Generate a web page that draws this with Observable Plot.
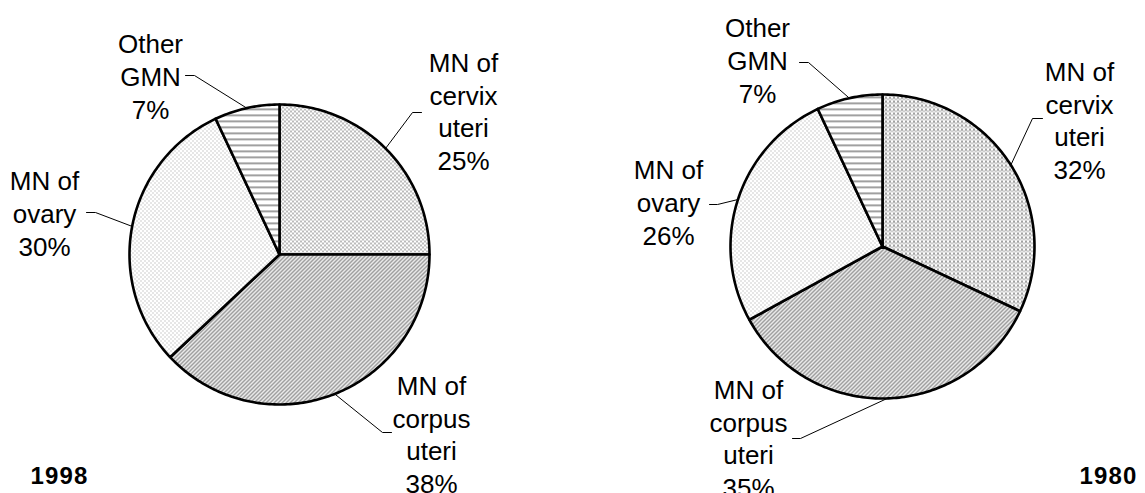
<!DOCTYPE html>
<html>
<head>
<meta charset="utf-8">
<script src="https://cdn.jsdelivr.net/npm/d3@7"></script>
<script src="https://cdn.jsdelivr.net/npm/@observablehq/plot@0.6"></script>
<style>
  html, body { margin: 0; padding: 0; background: #fff; }
  #chart svg { display: block; }
</style>
</head>
<body>
<div id="chart"></div>
<script>
// ---- data ----
const years = ["1998", "1980"];
const categories = ["MN of cervix uteri", "MN of corpus uteri", "MN of ovary", "Other GMN"];
const labelLines = ["MN of\ncervix\nuteri", "MN of\ncorpus\nuteri", "MN of\novary", "Other\nGMN"];
const shares1998 = [25, 38, 30, 7];
const shares1980 = [32, 35, 26, 7];

// ---- layout (positions / styles only) ----
const W = 1145, H = 493;
const pieLayout = [
  { cx: 279, cy: 254, r: 150,
    patterns: ["pDotsDense", "pDiag", "pDotsSparse", "pHoriz"],
    labels: [
      { lx: 463, ly: 110, ex: 412, ax: 421, y: 112 },
      { lx: 431, ly: 433, ex: 382, ax: 391, y: 432 },
      { lx: 44,  ly: 212, ex: 95,  ax: 86,  y: 212 },
      { lx: 150, ly: 75,  ex: 194, ax: 185, y: 75 }
    ],
    year: { x: 59, y: 476 } },
  { cx: 882, cy: 246, r: 152,
    patterns: ["pVertDash", "pDiag", "pDotsSparse", "pHoriz"],
    labels: [
      { lx: 1079, ly: 119, ex: 1032, ax: 1042, y: 118 },
      { lx: 748,  ly: 437, ex: 800,  ax: 792,  y: 438 },
      { lx: 668,  ly: 201, ex: 717,  ax: 709,  y: 204 },
      { lx: 757,  ly: 59,  ex: 808,  ax: 799,  y: 62 }
    ],
    year: { x: 1108, y: 476 } }
];
const seriesList = [shares1998, shares1980];

const rad = d => d * Math.PI / 180;
const marks = [];
const textRows = [];
const leaderRows = [];
const yearRows = [];

seriesList.forEach((vals, pi) => {
  const L = pieLayout[pi];
  const total = d3.sum(vals);
  let acc = 0;
  vals.forEach((v, i) => {
    const a0 = acc / total * 360;
    const a1 = (acc + v) / total * 360;
    acc += v;
    const pts = [{ x: L.cx, y: L.cy }];
    const n = Math.max(2, Math.ceil(a1 - a0));
    for (let k = 0; k <= n; k++) {
      const a = rad(a0 + (a1 - a0) * k / n);
      pts.push({ x: L.cx + L.r * Math.sin(a), y: L.cy - L.r * Math.cos(a) });
    }
    pts.push({ x: L.cx, y: L.cy });
    marks.push(Plot.line(pts, {
      x: "x", y: "y",
      fill: `url(#${L.patterns[i]})`,
      stroke: "#000", strokeWidth: 2.6, strokeLinejoin: "round"
    }));
    const am = rad((a0 + a1) / 2);
    const lab = L.labels[i];
    const id = years[pi] + "-" + i;
    leaderRows.push({ id, x: L.cx + L.r * Math.sin(am), y: L.cy - L.r * Math.cos(am) });
    leaderRows.push({ id, x: lab.ex, y: lab.y });
    leaderRows.push({ id, x: lab.ax, y: lab.y });
    textRows.push({ x: lab.lx, y: lab.ly, text: labelLines[i] + "\n" + v + "%", category: categories[i] });
  });
  yearRows.push({ x: L.year.x, y: L.year.y, text: years[pi] });
});

marks.push(Plot.line(leaderRows, { x: "x", y: "y", z: "id", stroke: "#000", strokeWidth: 1, curve: "linear" }));
marks.push(Plot.text(textRows, {
  x: "x", y: "y", text: "text",
  fontSize: 26, lineHeight: 1.26, fill: "#000",
  fontFamily: "Liberation Sans, Arial, sans-serif"
}));
marks.push(Plot.text(yearRows, {
  x: "x", y: "y", text: "text",
  fontSize: 24, fontWeight: "bold", fill: "#000",
  fontFamily: "Liberation Sans, Arial, sans-serif"
}));

const svg = Plot.plot({
  width: W, height: H,
  margin: 0,
  x: { domain: [0, W], range: [0, W], axis: null },
  y: { domain: [0, H], range: [0, H], axis: null },
  style: { background: "#fff", overflow: "visible" },
  marks
});

// widen the bold year labels slightly (letter spacing), as in the reference
d3.select(svg).selectAll("text").filter(function () { return this.getAttribute("font-weight") === "bold" || (this.parentNode && this.parentNode.getAttribute("font-weight") === "bold"); })
  .attr("letter-spacing", 1.2);

// patterns
const defs = d3.select(svg).insert("defs", ":first-child");
function pat(id, w, h, draw) {
  const p = defs.append("pattern").attr("id", id).attr("patternUnits", "userSpaceOnUse")
    .attr("width", w).attr("height", h);
  p.append("rect").attr("width", w).attr("height", h).attr("fill", "#fff");
  draw(p);
}
pat("pDotsDense", 4, 4, p => {
  p.append("rect").attr("x", 0).attr("y", 0).attr("width", 1).attr("height", 2).attr("fill", "#777");
  p.append("rect").attr("x", 2).attr("y", 2).attr("width", 1).attr("height", 2).attr("fill", "#777");
});
pat("pDotsSparse", 4, 4, p => {
  p.append("rect").attr("x", 0).attr("y", 0).attr("width", 1).attr("height", 1).attr("fill", "#999");
  p.append("rect").attr("x", 2).attr("y", 2).attr("width", 1).attr("height", 1).attr("fill", "#999");
});
pat("pDiag", 4, 4, p => {
  p.append("path").attr("d", "M-1,1 l2,-2 M0,4 l4,-4 M3,5 l2,-2")
    .attr("stroke", "#666").attr("stroke-width", 1.1);
});
pat("pHoriz", 6, 6, p => {
  p.append("rect").attr("x", 0).attr("y", 0).attr("width", 6).attr("height", 1.6).attr("fill", "#888");
});
pat("pVertDash", 4, 4, p => {
  p.append("rect").attr("x", 1).attr("y", 0).attr("width", 1).attr("height", 2.5).attr("fill", "#444");
  p.append("rect").attr("x", 3).attr("y", 2).attr("width", 1).attr("height", 1.5).attr("fill", "#777");
});

document.getElementById("chart").appendChild(svg);
</script>
</body>
</html>
